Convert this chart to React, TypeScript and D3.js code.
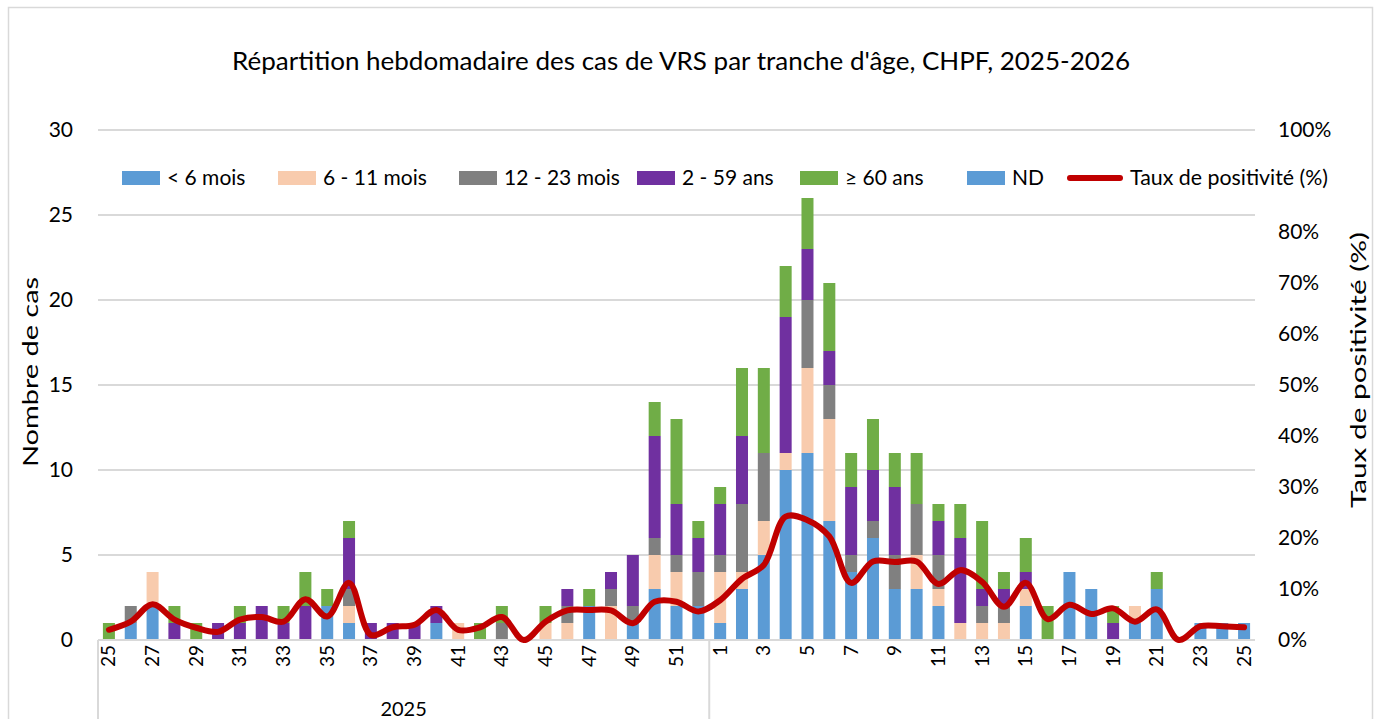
import React from "react";
import * as d3 from "d3";

// ---------- DATA ----------
const weeks2025 = [25,26,27,28,29,30,31,32,33,34,35,36,37,38,39,40,41,42,43,44,45,46,47,48,49,50,51,52];
const weeks2026 = [1,2,3,4,5,6,7,8,9,10,11,12,13,14,15,16,17,18,19,20,21,22,23,24,25];

const seriesNames = ["< 6 mois", "6 - 11 mois", "12 - 23 mois", "2 - 59 ans", "≥ 60 ans", "ND"];
const seriesColors = ["#5B9BD5", "#F8CBAD", "#808080", "#7030A0", "#70AD47", "#5B9BD5"];
const lineName = "Taux de positivité (%)";
const lineColor = "#C00000";

const lt6mois = [0,1,2,0,0,0,0,0,0,0,2,1,0,0,0,1,0,0,0,0,0,0,2,0,1,3,2,2,
  1,3,5,10,11,7,4,6,3,3,2,0,0,0,2,0,4,3,0,1,3,0,1,1,1];
const m6to11 = [0,0,2,0,0,0,0,0,0,0,0,1,0,0,0,0,1,0,0,0,1,1,0,2,0,2,2,0,
  3,1,2,1,5,6,0,0,0,2,1,1,1,1,1,0,0,0,0,1,0,0,0,0,0];
const m12to23 = [0,1,0,0,0,0,0,0,0,0,0,1,0,0,0,0,0,0,1,0,0,1,0,1,1,1,1,2,
  1,4,4,0,4,2,1,1,2,3,2,0,1,1,0,0,0,0,0,0,0,0,0,0,0];
const a2to59 = [0,0,0,1,0,1,1,2,1,2,0,3,1,1,1,1,0,0,0,0,0,1,0,1,3,6,3,2,
  3,4,0,8,3,2,4,3,4,0,2,5,1,1,1,0,0,0,1,0,0,0,0,0,0];
const a60plus = [1,0,0,1,1,0,1,0,1,2,1,1,0,0,0,0,0,1,1,0,1,0,1,0,0,2,5,1,
  1,4,5,3,3,4,2,3,2,3,1,2,4,1,2,2,0,0,1,0,1,0,0,0,0];
const nd = [0,0,0,0,0,0,0,0,0,0,0,0,0,0,0,0,0,0,0,0,0,0,0,0,0,0,0,0,
  0,0,0,0,0,0,0,0,0,0,0,0,0,0,0,0,0,0,0,0,0,0,0,0,0];
const positivity = [2,3.6,7,4,2.4,1.6,4,4.5,3.6,8,4.6,11.2,1,2.5,3,5.9,2,2.5,4.5,0,3.6,5.8,5.9,5.8,3.3,7.5,7.5,5.6,
  7.8,12,14.7,24.2,23.5,20.3,11.2,15.4,15.3,15.4,11,13.7,11.4,6.5,11.2,4.1,6.9,5.1,6.2,3.6,6,0,2.7,2.7,2.5];

const leftTicks = [0,5,10,15,20,25,30];
const rightTicks = [0,0.1,0.2,0.3,0.4,0.5,0.6,0.7,0.8,1.0];
const yearLabels = ["2025"];
const title = "Répartition hebdomadaire des cas de VRS par tranche d'âge, CHPF, 2025-2026";
const leftTitle = "Nombre de cas";
const rightTitle = "Taux de positivité (%)";

// ---------- LAYOUT ----------
const W = 1380, H = 719;
const plotL = 98, plotR = 1255, plotT = 130, plotB = 640;
const FONT = "Lato, 'Open Sans', sans-serif";

export default function App() {
  const keys = [...weeks2025.map(w => `2025-${w}`), ...weeks2026.map(w => `2026-${w}`)];
  const labels = [...weeks2025, ...weeks2026];
  const x = d3.scaleBand<string>().domain(keys).range([plotL, plotR]).paddingInner(0.45).paddingOuter(0.225);
  const yL = d3.scaleLinear().domain([0, 30]).range([plotB, plotT]);
  const yR = d3.scaleLinear().domain([0, 1]).range([plotB, plotT]);

  const table = keys.map((k, i) => ({
    key: k,
    s0: lt6mois[i], s1: m6to11[i], s2: m12to23[i], s3: a2to59[i], s4: a60plus[i], s5: nd[i],
  }));
  const stack = d3.stack<any>().keys(["s0", "s1", "s2", "s3", "s4", "s5"]);
  const stacked = stack(table);

  const line = d3.line<number>()
    .x((_, i) => (x(keys[i]) as number) + x.bandwidth() / 2)
    .y(d => yR(d / 100))
    .curve(d3.curveCatmullRom.alpha(0.5));

  const step = x.step();
  const sepX = plotL + weeks2025.length * step;

  const legendX = [122, 278, 459, 637, 800, 967];
  const legendY = 178;

  return (
    <svg width={W} height={H} style={{ position: "absolute", left: 0, top: 0, background: "#fff" }}
      fontFamily={FONT}>
      <rect x={8.5} y={7.5} width={1364} height={730} fill="#fff" stroke="#d9d9d9" strokeWidth={1.5} />
      <text x={681} y={70} textAnchor="middle" fontSize={25} fill="#000"
        textLength={898} lengthAdjust="spacingAndGlyphs">{title}</text>

      {/* gridlines */}
      {leftTicks.map(t => (
        <line key={"g" + t} x1={plotL} x2={plotR} y1={yL(t)} y2={yL(t)} stroke="#d9d9d9" strokeWidth={2} />
      ))}

      {/* left ticks */}
      {leftTicks.map(t => (
        <text key={"l" + t} x={73} y={yL(t)} dy="0.35em" textAnchor="end" fontSize={21} fill="#000">{t}</text>
      ))}
      {/* right ticks */}
      {rightTicks.map(t => (
        <text key={"r" + t} x={1278} y={yR(t)} dy="0.35em" textAnchor="start" fontSize={21} fill="#000">
          {d3.format(".0%")(t)}
        </text>
      ))}

      <text transform={`translate(38,${372}) rotate(-90)`} textAnchor="middle" fontSize={22} fill="#000"
        textLength={190} lengthAdjust="spacingAndGlyphs">{leftTitle}</text>
      <text transform={`translate(1366,${370}) rotate(-90)`} textAnchor="middle" fontSize={22} fill="#000"
        textLength={276} lengthAdjust="spacingAndGlyphs">{rightTitle}</text>

      {/* bars */}
      {stacked.map((s, si) => (
        <g key={s.key} fill={seriesColors[si]}>
          {s.map((d, i) => d[1] - d[0] > 0 ? (
            <rect key={i} x={x(keys[i])} width={x.bandwidth()} y={yL(d[1])} height={yL(d[0]) - yL(d[1])} />
          ) : null)}
        </g>
      ))}

      {/* x axis */}
      <line x1={plotL} x2={plotR} y1={plotB} y2={plotB} stroke="#d9d9d9" strokeWidth={2} />
      <line x1={plotL} x2={plotL} y1={plotB} y2={H} stroke="#d9d9d9" strokeWidth={2} />
      <line x1={sepX} x2={sepX} y1={plotB} y2={H} stroke="#d9d9d9" strokeWidth={2} />
      {labels.map((w, i) => i % 2 === 0 ? (
        <text key={"x" + i} transform={`translate(${(x(keys[i]) as number) + x.bandwidth() / 2 + 6.5},${645}) rotate(-90)`}
          textAnchor="end" fontSize={19} fill="#000">{w}</text>
      ) : null)}
      <text x={(plotL + sepX) / 2} y={716} textAnchor="middle" fontSize={20} fill="#000">{yearLabels[0]}</text>

      {/* line */}
      <path d={line(positivity) || ""} fill="none" stroke={lineColor} strokeWidth={6} strokeLinejoin="round" strokeLinecap="round" />

      {/* legend */}
      <rect x={110} y={160} width={1220} height={36} fill="#fff" />
      {seriesNames.map((n, i) => (
        <g key={n}>
          <rect x={legendX[i]} y={legendY - 7} width={38} height={14} fill={seriesColors[i]} />
          <text x={legendX[i] + 45} y={legendY} dy="0.35em" fontSize={21} fill="#000">{n}</text>
        </g>
      ))}
      <line x1={1070} x2={1120} y1={legendY} y2={legendY} stroke={lineColor} strokeWidth={6} strokeLinecap="round" />
      <text x={1130} y={legendY} dy="0.35em" fontSize={21} fill="#000" textLength={198} lengthAdjust="spacingAndGlyphs">{lineName}</text>
    </svg>
  );
}
